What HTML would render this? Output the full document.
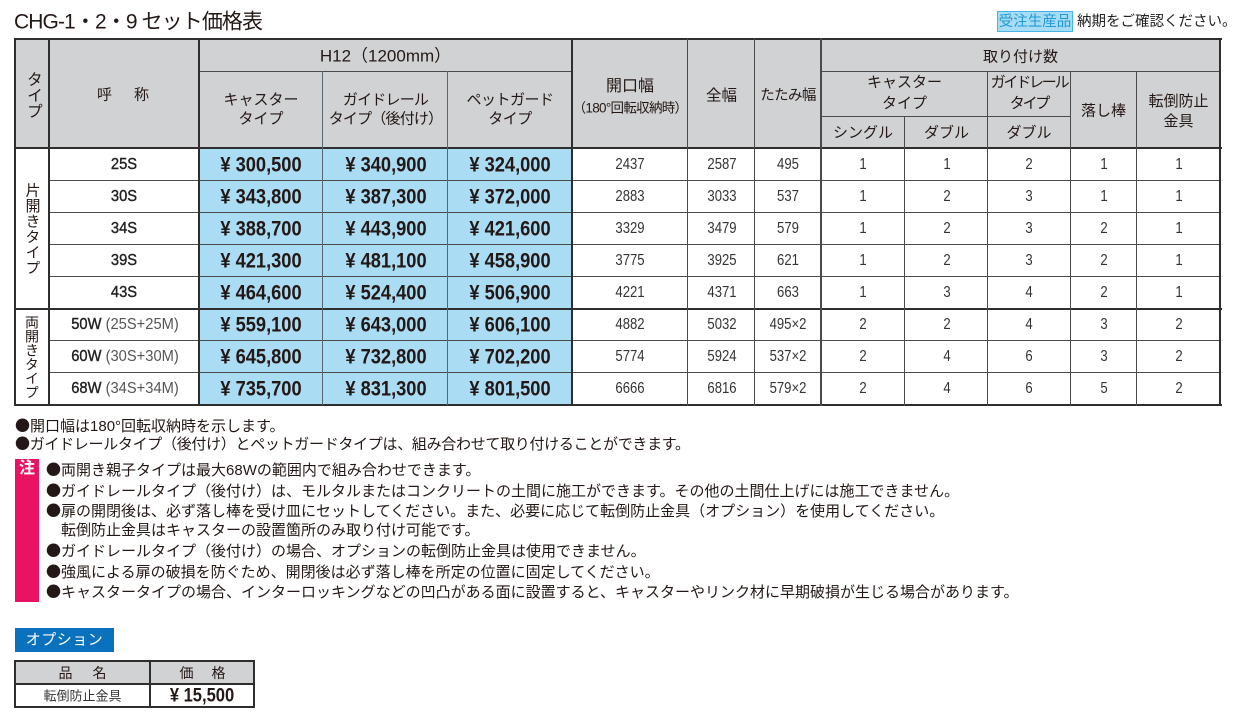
<!DOCTYPE html>
<html><head><meta charset="utf-8">
<style>
*{margin:0;padding:0;box-sizing:border-box}
body{width:1240px;height:724px;background:#fff;overflow:hidden;font-family:"Liberation Sans","Noto Sans CJK JP",sans-serif;color:#231815}
#w{position:relative;width:1240px;height:724px}
.L{position:absolute;background:#2e2e2e}
.l{position:absolute;background:#4a4a4a}
.bg{position:absolute}
.c{position:absolute;transform:translate(-50%,-50%);white-space:nowrap;text-align:center;line-height:1}
.h{font-size:15px;color:#231815}
.r{position:absolute;left:0;width:1240px;height:32px}
.r .c{top:16px}
.n{font-size:16px;color:#333;transform:translate(-50%,-50%) scaleX(.82)}
.p{font-size:21px;font-weight:bold;color:#231815;transform:translate(-50%,-50%) scaleX(.87)}
.lb{font-size:16px;color:#222;transform:translate(-50%,-50%) scaleX(.92)}
.lb b{font-weight:normal;-webkit-text-stroke:0.4px #222}
.vt{writing-mode:vertical-rl;text-orientation:upright}
.nt{position:absolute;font-size:15px;line-height:20px;height:20px;white-space:nowrap;color:#231815;letter-spacing:0px}
.bl{font-family:"Noto Sans CJK JP",sans-serif}
</style></head><body><div id="w">

<!-- title -->
<div class="c" style="left:14px;top:22px;transform:translate(0,-50%);font-size:21px;letter-spacing:-0.9px;text-align:left">CHG-1・2・9 セット価格表</div>
<div style="position:absolute;left:997px;top:11px;width:76px;height:21px;background:#a8dbf4;border:1.5px solid #45b5e8"></div>
<div class="c" style="left:1035px;top:21.5px;font-size:14.5px;color:#1e9ad6">受注生産品</div>
<div class="c" style="left:1077px;top:22px;transform:translate(0,-50%);font-size:14.5px;color:#222">納期をご確認ください。</div>

<!-- backgrounds -->
<div class="bg" style="left:15px;top:39px;width:1205px;height:109px;background:#d1d2d4"></div>
<div class="bg" style="left:199px;top:148px;width:373px;height:257px;background:#aadcf4"></div>

<!-- horizontal lines -->
<div class="L" style="left:14px;top:38px;width:1208px;height:2px"></div>
<div class="l" style="left:199px;top:71px;width:373px;height:1px"></div>
<div class="l" style="left:821px;top:71px;width:399px;height:1px"></div>
<div class="l" style="left:821px;top:116px;width:249px;height:1px"></div>
<div class="L" style="left:14px;top:147px;width:1208px;height:2px"></div>
<div class="l" style="left:49px;top:180px;width:1171px;height:1px"></div>
<div class="l" style="left:49px;top:212px;width:1171px;height:1px"></div>
<div class="l" style="left:49px;top:244px;width:1171px;height:1px"></div>
<div class="l" style="left:49px;top:276px;width:1171px;height:1px"></div>
<div class="L" style="left:14px;top:308px;width:1208px;height:2px"></div>
<div class="l" style="left:49px;top:340px;width:1171px;height:1px"></div>
<div class="l" style="left:49px;top:372px;width:1171px;height:1px"></div>
<div class="L" style="left:14px;top:404px;width:1208px;height:2px"></div>

<!-- vertical lines -->
<div class="L" style="left:14px;top:38px;width:2px;height:368px"></div>
<div class="L" style="left:1219px;top:38px;width:2px;height:368px"></div>
<div class="L" style="left:48px;top:38px;width:2px;height:368px"></div>
<div class="L" style="left:198px;top:38px;width:2px;height:368px"></div>
<div class="L" style="left:571px;top:38px;width:2px;height:368px"></div>
<div class="l" style="left:322px;top:71px;width:1px;height:334px;background:#5a6670"></div>
<div class="l" style="left:447px;top:71px;width:1px;height:334px;background:#5a6670"></div>
<div class="l" style="left:687px;top:38px;width:1px;height:368px"></div>
<div class="l" style="left:754px;top:38px;width:1px;height:368px"></div>
<div class="l" style="left:820px;top:38px;width:1.5px;height:368px"></div>
<div class="l" style="left:904px;top:116px;width:1px;height:290px"></div>
<div class="l" style="left:987px;top:71px;width:1px;height:335px"></div>
<div class="l" style="left:1070px;top:71px;width:1px;height:335px"></div>
<div class="l" style="left:1136px;top:71px;width:1px;height:335px"></div>

<!-- header text -->
<div class="c vt" style="left:32px;top:95px;font-size:16px">タイプ</div>
<div class="c h" style="left:123px;top:95px">呼<span style="margin-left:22px">称</span></div>
<div class="c" style="left:385.5px;top:56px;font-size:17px">H12（1200mm）</div>
<div class="c h" style="left:261px;top:109.5px;line-height:19.5px">キャスター<br>タイプ</div>
<div class="c h" style="left:385.5px;top:109.5px;line-height:19.5px;letter-spacing:-0.8px">ガイドレール<br>タイプ（後付け）</div>
<div class="c h" style="left:510px;top:109.5px;line-height:19.5px;letter-spacing:-0.5px">ペットガード<br>タイプ</div>
<div class="c" style="left:630px;top:87px;font-size:16px">開口幅</div>
<div class="c" style="left:630px;top:108px;font-size:13.5px;letter-spacing:-0.7px">（180°回転収納時）</div>
<div class="c" style="left:721.5px;top:96px;font-size:15.5px">全幅</div>
<div class="c" style="left:788px;top:96px;font-size:14.5px;letter-spacing:-0.6px">たたみ幅</div>
<div class="c h" style="left:1020.5px;top:57px">取り付け数</div>
<div class="c h" style="left:904.5px;top:92.5px;line-height:21px">キャスター<br>タイプ</div>
<div class="c h" style="left:1029px;top:92.5px;line-height:21px;letter-spacing:-2.2px">ガイドレール<br>タイプ</div>
<div class="c h" style="left:863px;top:133px">シングル</div>
<div class="c h" style="left:946.5px;top:133px">ダブル</div>
<div class="c h" style="left:1029px;top:133px">ダブル</div>
<div class="c h" style="left:1103.5px;top:111px">落し棒</div>
<div class="c h" style="left:1178.5px;top:112px;line-height:20px">転倒防止<br>金具</div>

<!-- left group labels -->
<div class="c vt" style="left:32px;top:229px;font-size:15px;letter-spacing:0.5px">片開きタイプ</div>
<div class="c vt" style="left:32px;top:357px;font-size:14px">両開きタイプ</div>

<!-- rows -->
<div class="r" style="top:149px">
<div class="c lb" style="left:124px"><b>25S</b></div>
<div class="c p" style="left:261px">¥ 300,500</div><div class="c p" style="left:385.5px">¥ 340,900</div><div class="c p" style="left:510px">¥ 324,000</div>
<div class="c n" style="left:630px">2437</div><div class="c n" style="left:721.5px">2587</div><div class="c n" style="left:788px">495</div>
<div class="c n" style="left:863px">1</div><div class="c n" style="left:946.5px">1</div><div class="c n" style="left:1029px">2</div><div class="c n" style="left:1103.5px">1</div><div class="c n" style="left:1178.5px">1</div>
</div>
<div class="r" style="top:181px">
<div class="c lb" style="left:124px"><b>30S</b></div>
<div class="c p" style="left:261px">¥ 343,800</div><div class="c p" style="left:385.5px">¥ 387,300</div><div class="c p" style="left:510px">¥ 372,000</div>
<div class="c n" style="left:630px">2883</div><div class="c n" style="left:721.5px">3033</div><div class="c n" style="left:788px">537</div>
<div class="c n" style="left:863px">1</div><div class="c n" style="left:946.5px">2</div><div class="c n" style="left:1029px">3</div><div class="c n" style="left:1103.5px">1</div><div class="c n" style="left:1178.5px">1</div>
</div>
<div class="r" style="top:213px">
<div class="c lb" style="left:124px"><b>34S</b></div>
<div class="c p" style="left:261px">¥ 388,700</div><div class="c p" style="left:385.5px">¥ 443,900</div><div class="c p" style="left:510px">¥ 421,600</div>
<div class="c n" style="left:630px">3329</div><div class="c n" style="left:721.5px">3479</div><div class="c n" style="left:788px">579</div>
<div class="c n" style="left:863px">1</div><div class="c n" style="left:946.5px">2</div><div class="c n" style="left:1029px">3</div><div class="c n" style="left:1103.5px">2</div><div class="c n" style="left:1178.5px">1</div>
</div>
<div class="r" style="top:245px">
<div class="c lb" style="left:124px"><b>39S</b></div>
<div class="c p" style="left:261px">¥ 421,300</div><div class="c p" style="left:385.5px">¥ 481,100</div><div class="c p" style="left:510px">¥ 458,900</div>
<div class="c n" style="left:630px">3775</div><div class="c n" style="left:721.5px">3925</div><div class="c n" style="left:788px">621</div>
<div class="c n" style="left:863px">1</div><div class="c n" style="left:946.5px">2</div><div class="c n" style="left:1029px">3</div><div class="c n" style="left:1103.5px">2</div><div class="c n" style="left:1178.5px">1</div>
</div>
<div class="r" style="top:277px">
<div class="c lb" style="left:124px"><b>43S</b></div>
<div class="c p" style="left:261px">¥ 464,600</div><div class="c p" style="left:385.5px">¥ 524,400</div><div class="c p" style="left:510px">¥ 506,900</div>
<div class="c n" style="left:630px">4221</div><div class="c n" style="left:721.5px">4371</div><div class="c n" style="left:788px">663</div>
<div class="c n" style="left:863px">1</div><div class="c n" style="left:946.5px">3</div><div class="c n" style="left:1029px">4</div><div class="c n" style="left:1103.5px">2</div><div class="c n" style="left:1178.5px">1</div>
</div>
<div class="r" style="top:309px">
<div class="c lb" style="left:125px"><b>50W</b> <span style="color:#555">(25S+25M)</span></div>
<div class="c p" style="left:261px">¥ 559,100</div><div class="c p" style="left:385.5px">¥ 643,000</div><div class="c p" style="left:510px">¥ 606,100</div>
<div class="c n" style="left:630px">4882</div><div class="c n" style="left:721.5px">5032</div><div class="c n" style="left:788px">495×2</div>
<div class="c n" style="left:863px">2</div><div class="c n" style="left:946.5px">2</div><div class="c n" style="left:1029px">4</div><div class="c n" style="left:1103.5px">3</div><div class="c n" style="left:1178.5px">2</div>
</div>
<div class="r" style="top:341px">
<div class="c lb" style="left:125px"><b>60W</b> <span style="color:#555">(30S+30M)</span></div>
<div class="c p" style="left:261px">¥ 645,800</div><div class="c p" style="left:385.5px">¥ 732,800</div><div class="c p" style="left:510px">¥ 702,200</div>
<div class="c n" style="left:630px">5774</div><div class="c n" style="left:721.5px">5924</div><div class="c n" style="left:788px">537×2</div>
<div class="c n" style="left:863px">2</div><div class="c n" style="left:946.5px">4</div><div class="c n" style="left:1029px">6</div><div class="c n" style="left:1103.5px">3</div><div class="c n" style="left:1178.5px">2</div>
</div>
<div class="r" style="top:373px">
<div class="c lb" style="left:125px"><b>68W</b> <span style="color:#555">(34S+34M)</span></div>
<div class="c p" style="left:261px">¥ 735,700</div><div class="c p" style="left:385.5px">¥ 831,300</div><div class="c p" style="left:510px">¥ 801,500</div>
<div class="c n" style="left:630px">6666</div><div class="c n" style="left:721.5px">6816</div><div class="c n" style="left:788px">579×2</div>
<div class="c n" style="left:863px">2</div><div class="c n" style="left:946.5px">4</div><div class="c n" style="left:1029px">6</div><div class="c n" style="left:1103.5px">5</div><div class="c n" style="left:1178.5px">2</div>
</div>

<!-- notes -->
<div class="nt" style="left:15px;top:415.5px"><span class="bl">●</span>開口幅は180°回転収納時を示します。</div>
<div class="nt" style="left:15px;top:434px;letter-spacing:-0.3px"><span class="bl">●</span>ガイドレールタイプ（後付け）とペットガードタイプは、組み合わせて取り付けることができます。</div>

<div style="position:absolute;left:15px;top:459px;width:24px;height:143px;background:#ea1263"></div>
<div class="c" style="left:27px;top:469px;font-size:16px;color:#fff;font-weight:bold">注</div>

<div class="nt" style="left:46px;top:460px"><span class="bl">●</span>両開き親子タイプは最大68Wの範囲内で組み合わせできます。</div>
<div class="nt" style="left:46px;top:481px"><span class="bl">●</span>ガイドレールタイプ（後付け）は、モルタルまたはコンクリートの土間に施工ができます。その他の土間仕上げには施工できません。</div>
<div class="nt" style="left:46px;top:501px"><span class="bl">●</span>扉の開閉後は、必ず落し棒を受け皿にセットしてください。また、必要に応じて転倒防止金具（オプション）を使用してください。</div>
<div class="nt" style="left:61px;top:521px">転倒防止金具はキャスターの設置箇所のみ取り付け可能です。</div>
<div class="nt" style="left:46px;top:541px"><span class="bl">●</span>ガイドレールタイプ（後付け）の場合、オプションの転倒防止金具は使用できません。</div>
<div class="nt" style="left:46px;top:562px"><span class="bl">●</span>強風による扉の破損を防ぐため、開閉後は必ず落し棒を所定の位置に固定してください。</div>
<div class="nt" style="left:46px;top:582px"><span class="bl">●</span>キャスタータイプの場合、インターロッキングなどの凹凸がある面に設置すると、キャスターやリンク材に早期破損が生じる場合があります。</div>

<!-- option -->
<div style="position:absolute;left:15px;top:628px;width:99px;height:24px;background:#0a72bc"></div>
<div class="c" style="left:64.5px;top:640px;font-size:15px;color:#fff;letter-spacing:0.5px">オプション</div>

<div class="bg" style="left:15px;top:661px;width:239px;height:23px;background:#d1d2d4"></div>
<div class="L" style="left:14px;top:660px;width:241px;height:2px"></div>
<div class="L" style="left:14px;top:683px;width:241px;height:2px"></div>
<div class="L" style="left:14px;top:706px;width:241px;height:2px"></div>
<div class="L" style="left:14px;top:660px;width:2px;height:48px"></div>
<div class="L" style="left:253px;top:660px;width:2px;height:48px"></div>
<div class="L" style="left:149px;top:660px;width:2px;height:48px"></div>
<div class="c" style="left:82.5px;top:673px;font-size:14px">品<span style="margin-left:20px">名</span></div>
<div class="c" style="left:202.5px;top:673px;font-size:14px">価<span style="margin-left:18px">格</span></div>
<div class="c" style="left:82.5px;top:696px;font-size:13px;color:#333">転倒防止金具</div>
<div class="c p" style="left:202px;top:696px;font-size:19px">¥ 15,500</div>

</div></body></html>
